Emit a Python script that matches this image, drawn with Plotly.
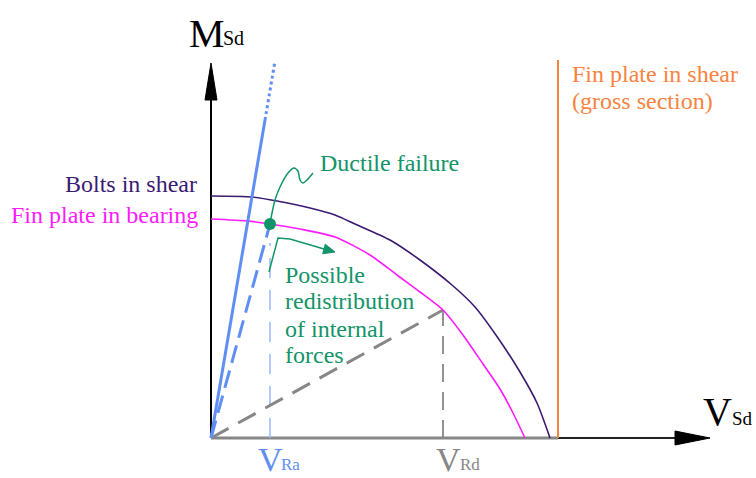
import plotly.graph_objects as go

# Interaction diagram: shear force V_Sd vs. bending moment M_Sd (schematic units)

# Resistance curves
bolts_V = [0, 41, 66, 99, 124, 144, 179, 209, 241, 264, 287, 309, 326, 339]
bolts_M = [242, 241, 237, 230, 223, 214, 198, 178, 153, 131, 100, 66, 35, 0]

bearing_V = [0, 37, 59, 89, 124, 159, 186, 209, 232, 252, 272, 289, 301, 314]
bearing_M = [219, 217, 214, 209, 201, 183, 163, 146, 128, 103, 74, 49, 27, 0]

# Fin plate in shear (gross section) limit
V_gross = 347
M_gross_top = 378

# Load paths
steep_V, steep_M = [0, 54], [0, 318]          # solid part of stiff load path
steep_dot_V, steep_dot_M = [54, 64], [318, 377]  # dotted continuation
ductile_V, ductile_M = 59, 214                 # ductile failure point (V_Ra)
redis_V, redis_M = 232, 128                    # redistributed point (V_Rd)

# Squiggle leader to "Ductile failure"
lead_V = [59, 64, 69, 77, 83, 87, 89, 92, 96, 102]
lead_M = [215, 238, 251, 265, 270, 267, 258, 255, 258, 265]

# Bent arrow pointing to redistribution
redis_arrow_V = [58, 67, 79, 113]
redis_arrow_M = [166, 200, 199, 189]
redis_arrow_tip = (124, 186)

# Multi-line labels, one entry per line
redis_lines = ["Possible", "redistribution", "of internal", "forces"]
redis_line_M = [163, 137, 109, 83]
gross_lines = ["Fin plate in shear", "(gross section)"]
gross_line_M = [364, 337]

# Axes extents
V_axis_tip, M_axis_tip = 499, 375

PURPLE = "#3b1a72"
MAGENTA = "#ff1aff"
ORANGE = "#f8833f"
GREEN = "#129468"
BLUE = "#5f8ff5"
LIGHTBLUE = "#97b8fb"
GRAY = "#878787"
FONT = "Liberation Serif, Tinos, Times New Roman, DejaVu Serif, serif"
LABEL_SIZE = 24


def arrow_head(tip, base, half_width):
    """Filled triangular arrowhead from tip back to base point."""
    tx, ty = tip
    bx, by = base
    dx, dy = tx - bx, ty - by
    n = (dx * dx + dy * dy) ** 0.5
    px, py = -dy / n * half_width, dx / n * half_width
    return [tx, bx + px, bx - px, tx], [ty, by + py, by - py, ty]


fig = go.Figure()


def line(x, y, color, width, dash="solid", shape="linear"):
    fig.add_trace(go.Scatter(x=x, y=y, mode="lines", hoverinfo="skip",
                             line=dict(color=color, width=width, dash=dash, shape=shape,
                                       smoothing=0.7 if shape == "spline" else None)))


def head(tip, base, hw, color):
    hx, hy = arrow_head(tip, base, hw)
    fig.add_trace(go.Scatter(x=hx, y=hy, mode="lines", fill="toself", fillcolor=color,
                             line=dict(color=color, width=1), hoverinfo="skip"))


# Axes
line([0, V_gross], [0, 0], GRAY, 3)
line([V_gross, V_axis_tip - 35], [0, 0], "#222222", 2)
head((V_axis_tip, 0), (V_axis_tip - 35, 0), 7, "black")
line([0, 0], [0, M_axis_tip - 37], "black", 2)
head((0, M_axis_tip), (0, M_axis_tip - 37), 6, "black")

# Guide lines
line([ductile_V, ductile_V], [0, 195], LIGHTBLUE, 1.5, dash="20px,12px")
line([redis_V, redis_V], [0, redis_M], GRAY, 1.8, dash="18px,10px")
line([0, redis_V], [0, redis_M], GRAY, 3, dash="20px,11px")

# Resistance curves
line([V_gross, V_gross], [0, M_gross_top], ORANGE, 2)
line(bolts_V, bolts_M, PURPLE, 1.6, shape="spline")
line(bearing_V, bearing_M, MAGENTA, 1.6, shape="spline")

# Load paths
line(steep_V, steep_M, BLUE, 3)
line(steep_dot_V, steep_dot_M, BLUE, 3, dash="dot")
line([0, ductile_V], [0, ductile_M], BLUE, 3, dash="18px,8px")

# Leaders
line(lead_V, lead_M, GREEN, 1.5, shape="spline")
line(redis_arrow_V, redis_arrow_M, GREEN, 1.5)
head(redis_arrow_tip, (redis_arrow_V[-1], redis_arrow_M[-1]), 5, GREEN)

fig.add_trace(go.Scatter(x=[ductile_V], y=[ductile_M], mode="markers", hoverinfo="skip",
                         marker=dict(color=GREEN, size=12)))


def text(x, y, s, color, size, xanchor="left", yanchor="middle"):
    fig.add_annotation(x=x, y=y, xref="x", yref="y", text=s, showarrow=False,
                       xanchor=xanchor, yanchor=yanchor,
                       font=dict(family=FONT, size=size, color=color))


# Axis titles
text(-24, 405, "M", "black", 40)
text(10, 400, "Sd", "black", 20)
text(490, 27, "V", "black", 40)
text(519, 20, "Sd", "black", 19)
text(45, -21, "V", BLUE, 34)
text(68, -26, "Ra", BLUE, 17)
text(223, -21, "V", GRAY, 34)
text(247, -26, "Rd", GRAY, 17)

# Labels
text(-12, 254, "Bolts in shear", PURPLE, LABEL_SIZE, xanchor="right")
text(-11, 223, "Fin plate in bearing", MAGENTA, LABEL_SIZE, xanchor="right")
text(107, 275, "Ductile failure", GREEN, LABEL_SIZE)
for s, m in zip(redis_lines, redis_line_M):
    text(72, m, s, GREEN, LABEL_SIZE)
for s, m in zip(gross_lines, gross_line_M):
    text(359, m, s, ORANGE, LABEL_SIZE)

fig.update_layout(
    width=756, height=478, margin=dict(l=0, r=0, t=0, b=0),
    paper_bgcolor="white", plot_bgcolor="white", showlegend=False,
    xaxis=dict(range=[-211, 545], visible=False, fixedrange=True),
    yaxis=dict(range=[-40, 438], visible=False, fixedrange=True),
)

fig.write_html("out.html")
